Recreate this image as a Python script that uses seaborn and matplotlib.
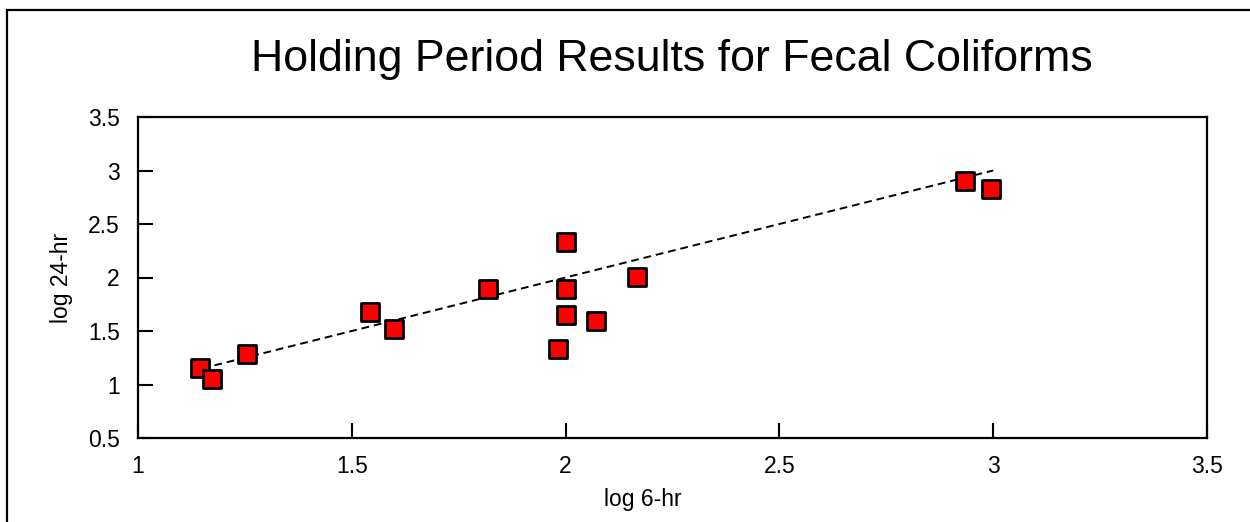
import matplotlib
matplotlib.use("Agg")
import matplotlib.pyplot as plt
import seaborn as sns
import pandas as pd
from matplotlib.patches import Rectangle

# data
log_6hr = [1.145, 1.174, 1.254, 1.543, 1.599, 1.819, 2.000, 2.000, 2.000, 1.982, 2.071, 2.168, 2.934, 2.994]
log_24hr = [1.151, 1.049, 1.285, 1.680, 1.516, 1.890, 2.332, 1.890, 1.650, 1.335, 1.596, 2.007, 2.899, 2.830]
ref_x = [1.15, 3.0]
ref_y = [1.15, 3.0]
x_ticks = [1, 1.5, 2, 2.5, 3, 3.5]
y_ticks = [0.5, 1, 1.5, 2, 2.5, 3, 3.5]

df = pd.DataFrame({"log 6-hr": log_6hr, "log 24-hr": log_24hr})
ref = pd.DataFrame({"x": ref_x, "y": ref_y})

sns.set_theme(style="white")
plt.rcParams["font.family"] = ["Liberation Sans", "DejaVu Sans"]

fig = plt.figure(figsize=(12.5, 5.22), dpi=100)
ax = fig.add_axes([138 / 1250, 1 - 438 / 522, (1207 - 138) / 1250, (438 - 117) / 522])

sns.lineplot(data=ref, x="x", y="y", ax=ax, color="black", linewidth=1.4,
             linestyle=(0, (4, 2.5)), zorder=2)
sns.scatterplot(data=df, x="log 6-hr", y="log 24-hr", ax=ax, marker="s", s=150,
                color="#ff0000", edgecolor="black", linewidth=2.0, zorder=3)

ax.set_xlim(1, 3.5)
ax.set_ylim(0.5, 3.5)
ax.set_xticks(x_ticks)
ax.set_xticklabels(["1", "1.5", "2", "2.5", "3", "3.5"])
ax.set_yticks(y_ticks)
ax.set_yticklabels(["0.5", "1", "1.5", "2", "2.5", "3", "3.5"])
ax.tick_params(axis="both", direction="in", length=11, width=1.5, color="black",
               labelsize=16.5, labelcolor="black", bottom=True, left=True, top=False, right=False)
ax.tick_params(axis="x", pad=12.5)
ax.tick_params(axis="y", pad=13)
for sp in ax.spines.values():
    sp.set_visible(True)
    sp.set_color("black")
    sp.set_linewidth(1.6)

ax.set_xlabel("log 6-hr", fontsize=16.5, color="black")
ax.set_ylabel("log 24-hr", fontsize=16.5, color="black")
ax.xaxis.set_label_coords((643 - 138) / (1207 - 138), -(488 - 438) / (438 - 117))
ax.yaxis.set_label_coords(-(138 - 73) / (1207 - 138), 0.5)

fig.text(672 / 1250, 1 - 60 / 522, "Holding Period Results for Fecal Coliforms",
         ha="center", va="center", fontsize=32.2, color="black")

fig.patches.append(Rectangle((7 / 1250, -0.1), 1.2, 1 - 10 / 522 + 0.1,
                             transform=fig.transFigure, fill=False,
                             edgecolor="black", linewidth=1.6))

fig.savefig("out.png", dpi=100, facecolor="white")
